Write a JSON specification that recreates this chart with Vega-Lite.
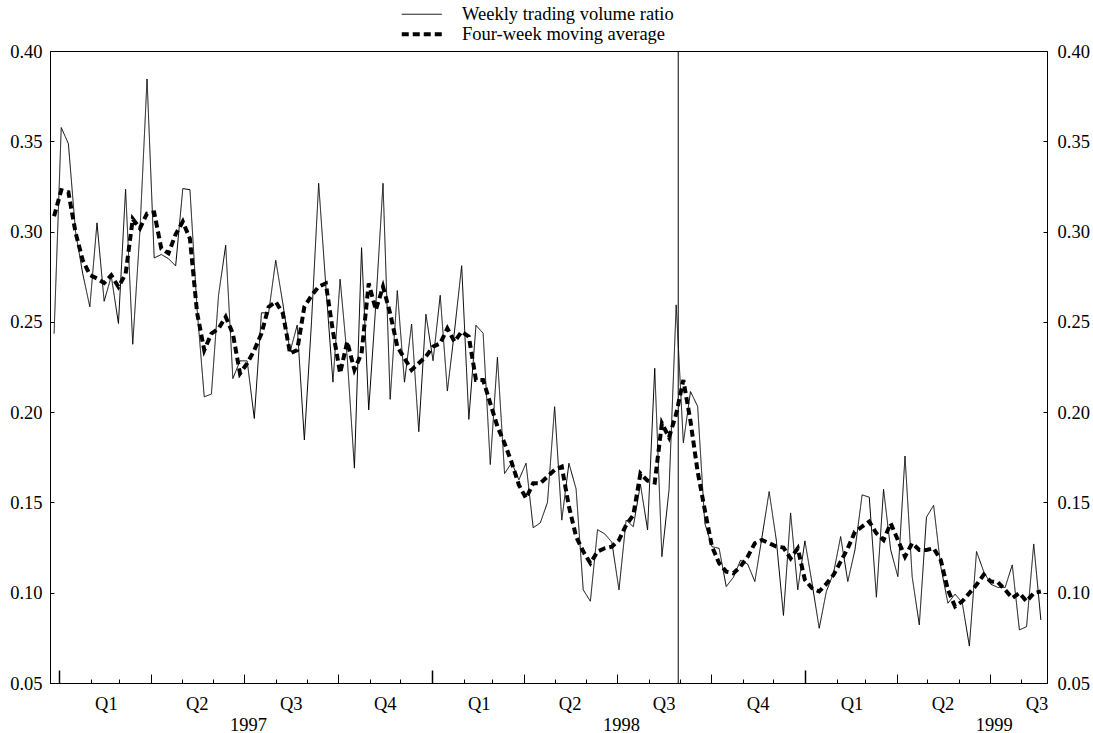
{
 "$schema": "https://vega.github.io/schema/vega-lite/v6.json",
 "width": 997, "height": 632,
 "autosize": {"type": "none"},
 "padding": {"left": 50, "top": 51, "right": 46, "bottom": 50},
 "background": "white",
 "config": {
  "view": {"stroke": "black", "strokeWidth": 1},
  "axis": {"labelFont": "Liberation Serif", "labelFontSize": 18.5, "labelColor": "black", "domainColor": "black", "tickColor": "black", "tickWidth": 1, "tickOpacity": 1, "grid": false, "title": null, "labelOverlap": false, "labelFlush": false, "labelBound": false}
 },
 "data": {"values": [
  {"d":"1996-12-27","w":0.2435,"m":0.3085},{"d":"1997-01-03","w":0.3576,"m":0.3229},{"d":"1997-01-10","w":0.3487,"m":0.3218},{"d":"1997-01-17","w":0.300,"m":0.2995},{"d":"1997-01-24","w":0.2768,"m":0.2842},{"d":"1997-01-31","w":0.2583,"m":0.2760},{"d":"1997-02-07","w":0.3048,"m":0.2740},{"d":"1997-02-14","w":0.2614,"m":0.2715},{"d":"1997-02-21","w":0.2753,"m":0.2758},{"d":"1997-02-28","w":0.2491,"m":0.2694},
  {"d":"1997-03-07","w":0.3234,"m":0.2765},{"d":"1997-03-14","w":0.2376,"m":0.3070},{"d":"1997-03-21","w":0.300,"m":0.3018},{"d":"1997-03-28","w":0.3845,"m":0.3100},{"d":"1997-04-04","w":0.2854,"m":0.3106},{"d":"1997-04-11","w":0.2873,"m":0.2905},{"d":"1997-04-18","w":0.2850,"m":0.2880},{"d":"1997-04-25","w":0.2810,"m":0.2985},{"d":"1997-05-02","w":0.3238,"m":0.3055},{"d":"1997-05-09","w":0.3232,"m":0.2960},
  {"d":"1997-05-16","w":0.2570,"m":0.2550},{"d":"1997-05-23","w":0.2085,"m":0.2343},{"d":"1997-05-30","w":0.2100,"m":0.2435},{"d":"1997-06-06","w":0.2648,"m":0.2463},{"d":"1997-06-13","w":0.2924,"m":0.2528},{"d":"1997-06-20","w":0.2186,"m":0.2435},{"d":"1997-06-27","w":0.2284,"m":0.2214},{"d":"1997-07-04","w":0.2284,"m":0.2270},{"d":"1997-07-11","w":0.1965,"m":0.2343},{"d":"1997-07-18","w":0.2550,"m":0.2435},
  {"d":"1997-07-25","w":0.2550,"m":0.2583},{"d":"1997-08-01","w":0.2841,"m":0.2611},{"d":"1997-08-08","w":0.2600,"m":0.2546},{"d":"1997-08-15","w":0.2334,"m":0.2325},{"d":"1997-08-22","w":0.2482,"m":0.2344},{"d":"1997-08-29","w":0.1846,"m":0.2584},{"d":"1997-09-05","w":0.2500,"m":0.2645},{"d":"1997-09-12","w":0.3267,"m":0.2695},{"d":"1997-09-19","w":0.2700,"m":0.2713},{"d":"1997-09-26","w":0.2166,"m":0.2446},
  {"d":"1997-10-03","w":0.2736,"m":0.2216},{"d":"1997-10-10","w":0.2300,"m":0.2390},{"d":"1997-10-17","w":0.1690,"m":0.2234},{"d":"1997-10-24","w":0.2911,"m":0.2326},{"d":"1997-10-31","w":0.2012,"m":0.2713},{"d":"1997-11-07","w":0.2600,"m":0.2566},{"d":"1997-11-14","w":0.3267,"m":0.2695},{"d":"1997-11-21","w":0.2071,"m":0.2547},{"d":"1997-11-28","w":0.2673,"m":0.2363},{"d":"1997-12-05","w":0.2166,"m":0.2298},
  {"d":"1997-12-12","w":0.2488,"m":0.2234},{"d":"1997-12-19","w":0.1892,"m":0.2271},{"d":"1997-12-26","w":0.2542,"m":0.2308},{"d":"1998-01-02","w":0.2285,"m":0.2363},{"d":"1998-01-09","w":0.2647,"m":0.2381},{"d":"1998-01-16","w":0.2117,"m":0.2464},{"d":"1998-01-23","w":0.2450,"m":0.2390},{"d":"1998-01-30","w":0.2811,"m":0.2446},{"d":"1998-02-06","w":0.1960,"m":0.2418},{"d":"1998-02-13","w":0.2481,"m":0.2178},
  {"d":"1998-02-20","w":0.2437,"m":0.2178},{"d":"1998-02-27","w":0.1710,"m":0.2049},{"d":"1998-03-06","w":0.2304,"m":0.1920},{"d":"1998-03-13","w":0.1660,"m":0.1828},{"d":"1998-03-20","w":0.1720,"m":0.1720},{"d":"1998-03-27","w":0.1625,"m":0.1597},{"d":"1998-04-03","w":0.1717,"m":0.1523},{"d":"1998-04-10","w":0.1360,"m":0.1606},{"d":"1998-04-17","w":0.1387,"m":0.1606},{"d":"1998-04-24","w":0.1500,"m":0.1643},
  {"d":"1998-05-01","w":0.2030,"m":0.1680},{"d":"1998-05-08","w":0.1402,"m":0.1698},{"d":"1998-05-15","w":0.1717,"m":0.1477},{"d":"1998-05-22","w":0.1575,"m":0.1311},{"d":"1998-05-29","w":0.1016,"m":0.1228},{"d":"1998-06-05","w":0.0953,"m":0.1163},{"d":"1998-06-12","w":0.1349,"m":0.1228},{"d":"1998-06-19","w":0.1326,"m":0.1246},{"d":"1998-06-26","w":0.1280,"m":0.1255},{"d":"1998-07-03","w":0.1016,"m":0.1292},
  {"d":"1998-07-10","w":0.1402,"m":0.1375},{"d":"1998-07-17","w":0.1366,"m":0.1430},{"d":"1998-07-24","w":0.1600,"m":0.1660},{"d":"1998-07-31","w":0.1348,"m":0.1620},{"d":"1998-08-07","w":0.2243,"m":0.1610},{"d":"1998-08-14","w":0.1200,"m":0.1938},{"d":"1998-08-21","w":0.1570,"m":0.1860},{"d":"1998-08-28","w":0.2594,"m":0.1990},{"d":"1998-09-04","w":0.1830,"m":0.2178},{"d":"1998-09-11","w":0.2114,"m":0.1950},
  {"d":"1998-09-18","w":0.2032,"m":0.1670},{"d":"1998-09-25","w":0.1385,"m":0.1459},{"d":"1998-10-02","w":0.1255,"m":0.1256},{"d":"1998-10-09","w":0.1246,"m":0.1164},{"d":"1998-10-16","w":0.1034,"m":0.1117},{"d":"1998-10-23","w":0.1085,"m":0.1108},{"d":"1998-10-30","w":0.1180,"m":0.1145},{"d":"1998-11-06","w":0.1158,"m":0.1200},{"d":"1998-11-13","w":0.1062,"m":0.1274},{"d":"1998-11-20","w":0.1308,"m":0.1292},
  {"d":"1998-11-27","w":0.1560,"m":0.1274},{"d":"1998-12-04","w":0.1292,"m":0.1256},{"d":"1998-12-11","w":0.0874,"m":0.1250},{"d":"1998-12-18","w":0.1442,"m":0.1190},{"d":"1998-12-25","w":0.1016,"m":0.1246},{"d":"1999-01-01","w":0.1287,"m":0.1071},{"d":"1999-01-08","w":0.1053,"m":0.1025},{"d":"1999-01-15","w":0.0803,"m":0.1007},{"d":"1999-01-22","w":0.1007,"m":0.1049},{"d":"1999-01-29","w":0.1108,"m":0.1099},
  {"d":"1999-02-05","w":0.1311,"m":0.1172},{"d":"1999-02-12","w":0.1062,"m":0.1246},{"d":"1999-02-19","w":0.1237,"m":0.1338},{"d":"1999-02-26","w":0.1542,"m":0.1366},{"d":"1999-03-05","w":0.1529,"m":0.1394},{"d":"1999-03-12","w":0.0975,"m":0.1329},{"d":"1999-03-19","w":0.1573,"m":0.1292},{"d":"1999-03-26","w":0.1237,"m":0.1384},{"d":"1999-04-02","w":0.1089,"m":0.1292},{"d":"1999-04-09","w":0.1757,"m":0.1200},
  {"d":"1999-04-16","w":0.1089,"m":0.1274},{"d":"1999-04-23","w":0.0822,"m":0.1237},{"d":"1999-04-30","w":0.1418,"m":0.1237},{"d":"1999-05-07","w":0.1484,"m":0.1246},{"d":"1999-05-14","w":0.1145,"m":0.1181},{"d":"1999-05-21","w":0.0942,"m":0.1016},{"d":"1999-05-28","w":0.0992,"m":0.0924},{"d":"1999-06-04","w":0.0946,"m":0.0952},{"d":"1999-06-11","w":0.0705,"m":0.0998},{"d":"1999-06-18","w":0.1228,"m":0.1044},
  {"d":"1999-06-25","w":0.1118,"m":0.1099},{"d":"1999-07-02","w":0.1047,"m":0.1062},{"d":"1999-07-09","w":0.1029,"m":0.1058},{"d":"1999-07-16","w":0.1029,"m":0.1016},{"d":"1999-07-23","w":0.1154,"m":0.0970},{"d":"1999-07-30","w":0.0794,"m":0.0998},{"d":"1999-08-06","w":0.0812,"m":0.0952},{"d":"1999-08-13","w":0.1270,"m":0.0998},{"d":"1999-08-20","w":0.0849,"m":0.1007}
 ]},
 "layer": [
  {
   "mark": {"type": "line", "color": "black", "strokeWidth": 1},
   "encoding": {
    "x": {"field": "d", "type": "temporal",
      "scale": {"type": "utc", "domain": [{"year":1996,"month":12,"date":23,"utc":true},{"year":1999,"month":8,"date":26,"utc":true}]},
      "axis": {"orient": "bottom", "title": null, "tickSize": -4, "labels": false, "domain": true,
        "values": [
         {"year":1997,"month":1,"date":1,"utc":true},{"year":1997,"month":2,"date":1,"utc":true},{"year":1997,"month":3,"date":1,"utc":true},{"year":1997,"month":4,"date":1,"utc":true},{"year":1997,"month":5,"date":1,"utc":true},{"year":1997,"month":6,"date":1,"utc":true},{"year":1997,"month":7,"date":1,"utc":true},{"year":1997,"month":8,"date":1,"utc":true},{"year":1997,"month":9,"date":1,"utc":true},{"year":1997,"month":10,"date":1,"utc":true},{"year":1997,"month":11,"date":1,"utc":true},{"year":1997,"month":12,"date":1,"utc":true},
         {"year":1998,"month":1,"date":1,"utc":true},{"year":1998,"month":2,"date":1,"utc":true},{"year":1998,"month":3,"date":1,"utc":true},{"year":1998,"month":4,"date":1,"utc":true},{"year":1998,"month":5,"date":1,"utc":true},{"year":1998,"month":6,"date":1,"utc":true},{"year":1998,"month":7,"date":1,"utc":true},{"year":1998,"month":8,"date":1,"utc":true},{"year":1998,"month":9,"date":1,"utc":true},{"year":1998,"month":10,"date":1,"utc":true},{"year":1998,"month":11,"date":1,"utc":true},{"year":1998,"month":12,"date":1,"utc":true},
         {"year":1999,"month":1,"date":1,"utc":true},{"year":1999,"month":2,"date":1,"utc":true},{"year":1999,"month":3,"date":1,"utc":true},{"year":1999,"month":4,"date":1,"utc":true},{"year":1999,"month":5,"date":1,"utc":true},{"year":1999,"month":6,"date":1,"utc":true},{"year":1999,"month":7,"date":1,"utc":true},{"year":1999,"month":8,"date":1,"utc":true}
        ]}},
    "y": {"field": "w", "type": "quantitative",
      "scale": {"domain": [0.05, 0.4], "zero": false, "nice": false},
      "axis": {"orient": "left", "title": null, "values": [0.05,0.1,0.15,0.2,0.25,0.3,0.35,0.4], "format": ".2f", "tickSize": -4, "labelPadding": 12}},
    "strokeDash": {"datum": "Weekly trading volume ratio", "type": "nominal",
      "scale": {"domain": ["Weekly trading volume ratio", "Four-week moving average"], "range": [[1,0],[7,4]]},
      "legend": {"orient": "none", "legendX": 362.5, "legendY": -46, "direction": "vertical", "title": null,
        "labelFont": "Liberation Serif", "labelFontSize": 18.5, "labelColor": "black", "labelLimit": 400,
        "symbolType": "M-2,0L2,0", "symbolSize": 400, "symbolStrokeColor": "black", "labelOffset": 31, "rowPadding": 1, "padding": 0,
        "encode": {"symbols": {"update": {
          "strokeWidth": {"signal": "datum.value == 'Four-week moving average' ? 4 : 1"},
          "strokeDash": {"signal": "datum.value == 'Four-week moving average' ? [8,7] : [1,0]"}}}}}}
   }
  },
  {
   "mark": {"type": "line", "color": "black", "strokeWidth": 4, "strokeCap": "butt"},
   "encoding": {
    "x": {"field": "d", "type": "temporal",
      "scale": {"type": "utc", "domain": [{"year":1996,"month":12,"date":23,"utc":true},{"year":1999,"month":8,"date":26,"utc":true}]},
      "axis": {"orient": "bottom", "title": null, "tickSize": -9, "labels": false, "domain": false,
        "values": [
         {"year":1997,"month":1,"date":1,"utc":true},{"year":1997,"month":4,"date":1,"utc":true},{"year":1997,"month":7,"date":1,"utc":true},{"year":1997,"month":10,"date":1,"utc":true},
         {"year":1998,"month":1,"date":1,"utc":true},{"year":1998,"month":4,"date":1,"utc":true},{"year":1998,"month":7,"date":1,"utc":true},{"year":1998,"month":10,"date":1,"utc":true},
         {"year":1999,"month":1,"date":1,"utc":true},{"year":1999,"month":4,"date":1,"utc":true},{"year":1999,"month":7,"date":1,"utc":true}
        ]}},
    "y": {"field": "m", "type": "quantitative",
      "scale": {"domain": [0.05, 0.4], "zero": false, "nice": false},
      "axis": {"orient": "right", "title": null, "values": [0.05,0.1,0.15,0.2,0.25,0.3,0.35,0.4], "format": ".2f", "tickSize": -4, "labelPadding": 14}},
    "strokeDash": {"datum": "Four-week moving average", "type": "nominal"}
   }
  },
  {
   "data": {"values": [{"d": "1998-08-30"}]},
   "mark": {"type": "rule", "color": "black", "strokeWidth": 1},
   "encoding": {
    "x": {"field": "d", "type": "temporal",
      "scale": {"type": "utc", "domain": [{"year":1996,"month":12,"date":23,"utc":true},{"year":1999,"month":8,"date":26,"utc":true}]},
      "axis": {"orient": "bottom", "title": null, "tickSize": -13, "tickWidth": 1.5, "labels": false, "domain": false,
        "values": [{"year":1997,"month":1,"date":1,"utc":true},{"year":1998,"month":1,"date":1,"utc":true},{"year":1999,"month":1,"date":1,"utc":true}]}}
   }
  },
  {
   "data": {"values": [{"d": "1998-08-30"}]},
   "mark": {"type": "rule", "color": "black", "strokeOpacity": 0},
   "encoding": {
    "x": {"field": "d", "type": "temporal",
      "scale": {"type": "utc", "domain": [{"year":1996,"month":12,"date":23,"utc":true},{"year":1999,"month":8,"date":26,"utc":true}]},
      "axis": {"orient": "bottom", "title": null, "ticks": false, "tickSize": 0, "domain": false, "labelPadding": 11, "labelOffset": 15,
        "labelExpr": "'Q' + (floor(utcmonth(datum.value) / 3) + 1)",
        "values": [
         {"year":1997,"month":2,"date":1,"utc":true},{"year":1997,"month":5,"date":1,"utc":true},{"year":1997,"month":8,"date":1,"utc":true},{"year":1997,"month":11,"date":1,"utc":true},
         {"year":1998,"month":2,"date":1,"utc":true},{"year":1998,"month":5,"date":1,"utc":true},{"year":1998,"month":8,"date":1,"utc":true},{"year":1998,"month":11,"date":1,"utc":true},
         {"year":1999,"month":2,"date":1,"utc":true},{"year":1999,"month":5,"date":1,"utc":true},{"year":1999,"month":8,"date":1,"utc":true}
        ]}}
   }
  },
  {
   "data": {"values": [{"d": "1998-08-30"}]},
   "mark": {"type": "rule", "color": "black", "strokeOpacity": 0},
   "encoding": {
    "x": {"field": "d", "type": "temporal",
      "scale": {"type": "utc", "domain": [{"year":1996,"month":12,"date":23,"utc":true},{"year":1999,"month":8,"date":26,"utc":true}]},
      "axis": {"orient": "bottom", "title": null, "ticks": false, "tickSize": 0, "domain": false, "labelPadding": 32, "labelOffset": 4,
        "labelExpr": "utcFormat(datum.value, '%Y')",
        "values": [{"year":1997,"month":7,"date":1,"utc":true},{"year":1998,"month":7,"date":1,"utc":true},{"year":1999,"month":7,"date":1,"utc":true}]}}
   }
  }
 ],
 "resolve": {"axis": {"x": "independent", "y": "independent"}}
}
